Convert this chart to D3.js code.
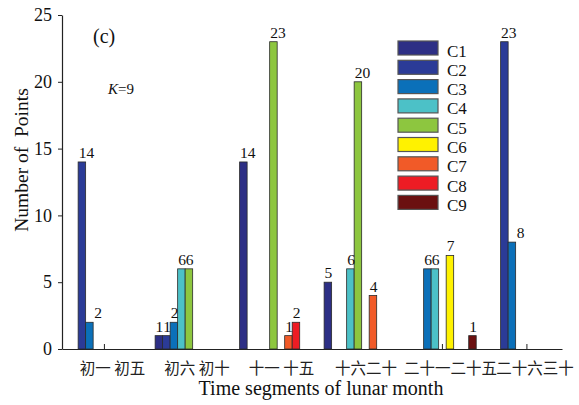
<!DOCTYPE html>
<html>
<head>
<meta charset="utf-8">
<script src="https://cdn.jsdelivr.net/npm/d3@7"></script>
<style>
  html, body { margin: 0; padding: 0; background: #ffffff; }
  svg { display: block; }
</style>
</head>
<body>
<svg id="chart" width="579" height="405"></svg>
<script>
const groups = ["初一 初五", "初六 初十", "十一 十五", "十六二十", "二十一二十五", "二十六三十"];
const seriesNames = ["C1", "C2", "C3", "C4", "C5", "C6", "C7", "C8", "C9"];
const C1 = [0, 1, 14, 5, 0, 0];
const C2 = [14, 1, 0, 0, 0, 23];
const C3 = [2, 2, 0, 0, 6, 8];
const C4 = [0, 6, 0, 6, 6, 0];
const C5 = [0, 6, 23, 20, 0, 0];
const C6 = [0, 0, 0, 0, 7, 0];
const C7 = [0, 0, 1, 4, 0, 0];
const C8 = [0, 0, 2, 0, 0, 0];
const C9 = [0, 0, 0, 0, 1, 0];
const seriesValues = [C1, C2, C3, C4, C5, C6, C7, C8, C9];
const seriesColors = ["#2d2f85", "#2b3b97", "#0b70b9", "#4cc1c7", "#8dc63f", "#fff200", "#f15a28", "#ed1c24", "#6b1010"];
const yTicks = [0, 5, 10, 15, 20, 25];
const xTitle = "Time segments of lunar month";
const yTitle = "Number of  Points";
const panelLabel = "(c)";

const SERIF = '"Liberation Serif", "DejaVu Serif", serif';
const CJK = '"Noto Sans CJK SC", "Noto Sans CJK TC", sans-serif';

const svg = d3.select("#chart");
const mLeft = 62, mRight = 562, mTop = 15, mBottom = 349;

const x = d3.scaleBand().domain(groups).range([mLeft, mRight])
  .paddingInner(0.2).paddingOuter(0.0586).align(0.87);
const xs = d3.scaleBand().domain(seriesNames).range([0, x.bandwidth()]);
const y = d3.scaleLinear().domain([0, 25]).range([mBottom, mTop]);

// Y axis
const yAxis = svg.append("g").attr("transform", `translate(${mLeft},0)`)
  .call(d3.axisLeft(y).tickValues(yTicks).tickSize(4).tickSizeOuter(0).tickPadding(6));
yAxis.attr("font-family", null).attr("font-size", null);
yAxis.select(".domain").attr("stroke", "#222").attr("stroke-width", 1.2);
yAxis.selectAll(".tick line").attr("stroke", "#222");
yAxis.selectAll(".tick text").style("font-family", SERIF).style("font-size", "18px").attr("fill", "#111");

// X axis (ticks at group centers pointing inward)
const xAxis = svg.append("g").attr("transform", `translate(0,${mBottom})`)
  .call(d3.axisBottom(x).tickSize(-5).tickSizeOuter(0).tickFormat(""));
xAxis.select(".domain").attr("stroke", "#222").attr("stroke-width", 1.2);
xAxis.selectAll(".tick line").attr("stroke", "#222");

// Group labels
svg.append("g").selectAll("text").data(groups).join("text")
  .style("font-family", CJK)
  .attr("x", d => x(d) + x.bandwidth() / 2 + 8)
  .attr("y", 374)
  .attr("text-anchor", "middle")
  .style("font-size", "15.5px")
  .attr("fill", "#222")
  .text(d => d);

// Bars
const barData = [];
groups.forEach((g, gi) => {
  seriesNames.forEach((s, si) => {
    const v = seriesValues[si][gi];
    const prev = si > 0 ? seriesValues[si - 1][gi] : 0;
    if (v > 0) barData.push({ g, s, v, si, prev });
  });
});

svg.append("g").selectAll("rect").data(barData).join("rect")
  .attr("x", d => x(d.g) + xs(d.s))
  .attr("y", d => y(d.v))
  .attr("width", xs.bandwidth())
  .attr("height", d => y(0) - y(d.v))
  .attr("fill", d => seriesColors[d.si])
  .attr("stroke", "#2a2a2a")
  .attr("stroke-width", 0.8);

svg.append("g").selectAll("text").data(barData).join("text")
  .style("font-family", SERIF)
  .attr("x", d => x(d.g) + xs(d.s) + (d.prev > d.v ? xs.bandwidth() + 1 : 0.5))
  .attr("y", d => y(d.v) - 4)
  .style("font-size", "15.5px")
  .attr("fill", "#111")
  .text(d => d.v);

// Legend
const lg = svg.append("g").attr("transform", "translate(398,41)");
const rows = lg.selectAll("g").data(seriesNames).join("g")
  .attr("transform", (d, i) => `translate(0,${i * 19.3})`);
rows.append("rect").attr("width", 40).attr("height", 14)
  .attr("fill", (d, i) => seriesColors[i])
  .attr("stroke", "#555").attr("stroke-width", 1.2);
rows.append("text").style("font-family", SERIF)
  .attr("x", 49).attr("y", 15.5)
  .style("font-size", "17px").attr("fill", "#111")
  .text(d => d);

// Panel label and K
svg.append("text").style("font-family", SERIF).attr("x", 93).attr("y", 43)
  .style("font-size", "20px").attr("fill", "#111").text(panelLabel);
const kt = svg.append("text").style("font-family", SERIF).attr("x", 108).attr("y", 94)
  .style("font-size", "15px").attr("fill", "#111");
kt.append("tspan").style("font-style", "italic").text("K");
kt.append("tspan").text("=9");

// Axis titles
svg.append("text").style("font-family", SERIF)
  .attr("x", 321).attr("y", 395).attr("text-anchor", "middle")
  .style("font-size", "20px").attr("fill", "#111").text(xTitle);
svg.append("text").style("font-family", SERIF)
  .attr("transform", "translate(28,160) rotate(-90)")
  .attr("text-anchor", "middle")
  .style("font-size", "19.5px").style("white-space", "pre").attr("fill", "#111")
  .text(yTitle);
</script>
</body>
</html>
